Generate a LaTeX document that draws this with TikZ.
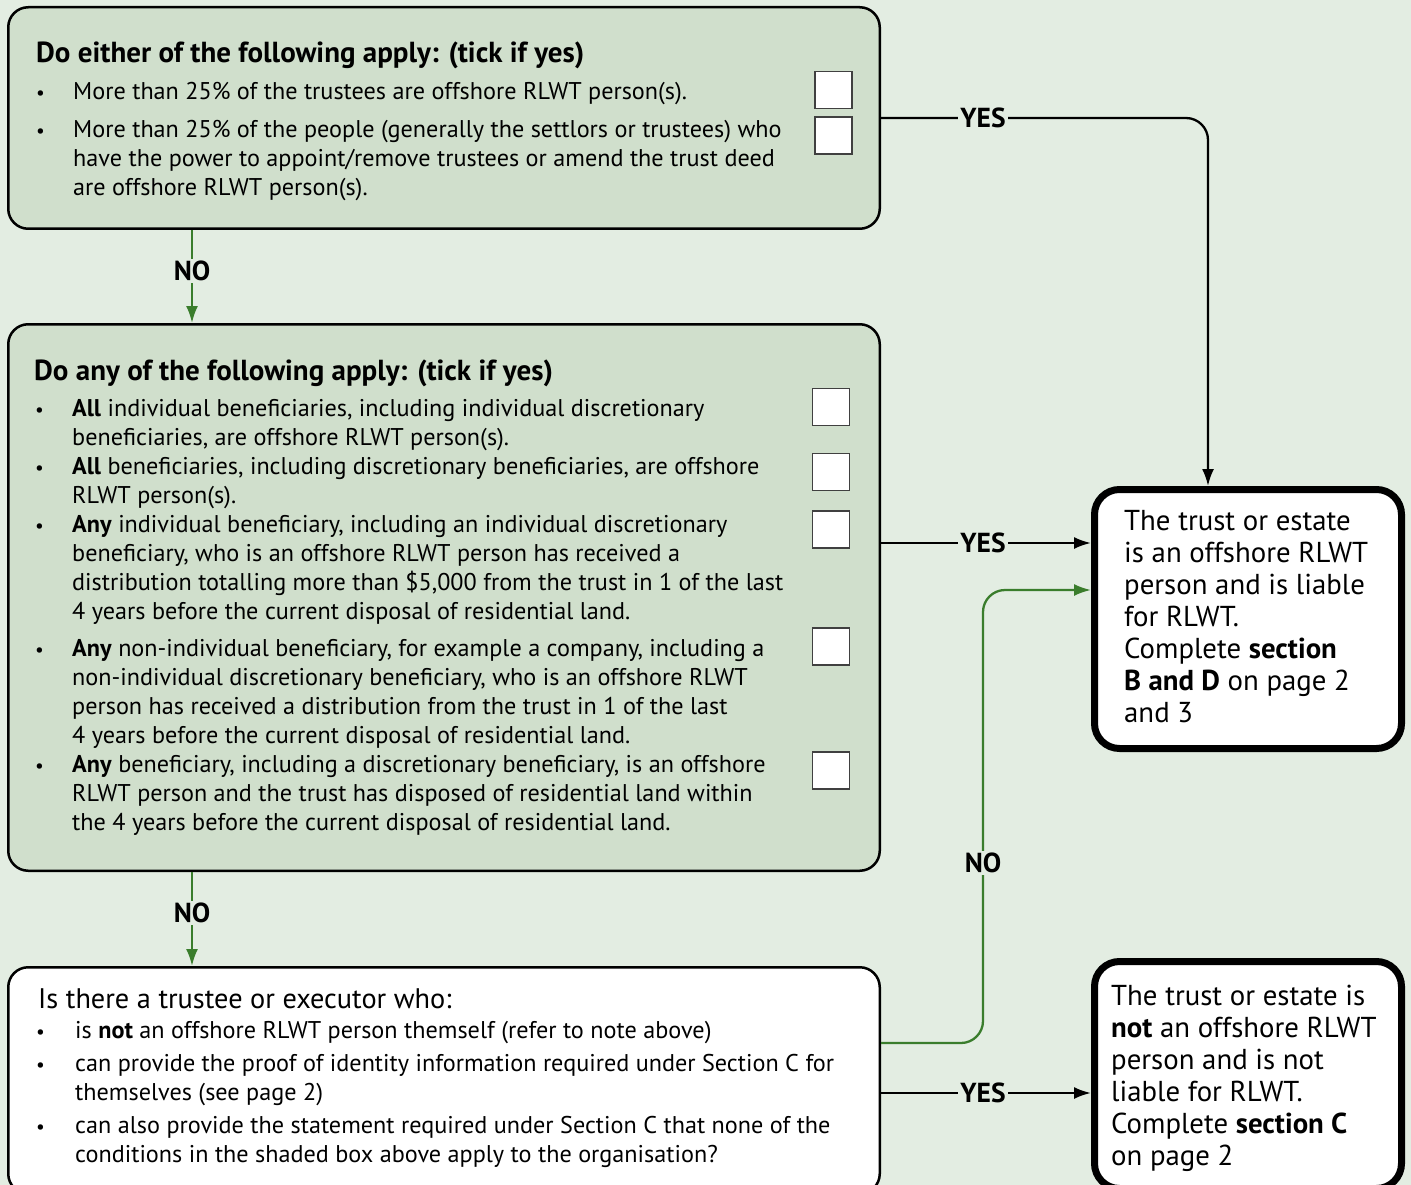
\documentclass[tikz,border=0pt]{standalone}
\usepackage{fontspec}
\setmainfont{PT Sans}
\usetikzlibrary{arrows.meta}

\definecolor{bggreen}{RGB}{227,237,226}
\definecolor{boxgreen}{RGB}{208,223,204}
\definecolor{nogreen}{RGB}{58,125,44}

% lines of a text block, baseline = first line
\newcommand{\lns}[1]{\vtop{\halign{##\hfil\cr#1\crcr}}}

\begin{document}
\begin{tikzpicture}[x=1pt, y=-1pt,
        font=\fontsize{24.2}{29}\selectfont,
        >={Latex[length=17pt,width=12pt]}, % Pfeilspitzen
        qbox/.style={draw, line width=2.5pt, rounded corners=20pt, fill=boxgreen, minimum width=871.5pt},
        rbox/.style={draw, line width=7pt, rounded corners=25pt, fill=white, minimum width=307pt},
        chk/.style={draw=black!75, line width=1.2pt, fill=white, minimum size=37pt, inner sep=0pt},
        txt/.style={anchor=base west, inner sep=0pt},
        head/.style={txt, font=\fontsize{29}{30}\selectfont\bfseries},
        res/.style={txt, font=\fontsize{28.8}{32}\selectfont},
        lbl/.style={fill=bggreen, inner sep=2pt, font=\fontsize{27.5}{30}\selectfont\bfseries},
        flow/.style={line width=2.3pt},
        noflow/.style={flow, draw=nogreen}
        ]
    \useasboundingbox (0,0) rectangle (1411,1185);
    \fill[bggreen] (0,0) rectangle (1411,1185);

    % Kaesten
    \node[qbox, minimum height=221.5pt] (q1) at (444,118) {};
    \node[qbox, minimum height=546.5pt] (q2) at (444,597.5) {};
    \node[qbox, fill=white, minimum height=226.5pt] (q3) at (444,1080.5) {};
    \node[rbox, minimum height=259pt] (resA) at (1248,619) {};
    \node[rbox, minimum height=227pt] (resB) at (1248,1075) {};

    % Ankreuzfelder
    \node[chk] (c11) at (833.5,90) {};
    \node[chk] (c12) at (833.5,135.5) {};
    \foreach \y [count=\i] in {407,472,529.5,646.5,770.5}
        \node[chk] (c2\i) at (831,\y) {};

    % Aufzaehlungspunkte
    \foreach \y [count=\i] in {100,138}
        \node[txt, scale=0.8] (b1\i) at (36,\y) {\textbullet};
    \foreach \y [count=\i] in {416,474,532,656,772}
        \node[txt, scale=0.8] (b2\i) at (35,\y) {\textbullet};
    \foreach \y [count=\i] in {1038,1071,1133}
        \node[txt, scale=0.8] (b3\i) at (36,\y) {\textbullet};

    % Texte
    \node[head] (t1) at (36,63) {Do either of the following apply: (tick if yes)};
    \node[txt] (t11) at (73,100) {More than 25\% of the trustees are offshore RLWT person(s).};
    \node[txt] (t12) at (73,138) {\lns{More than 25\% of the people (generally the settlors or trustees) who\cr
        have the power to appoint/remove trustees or amend the trust deed\cr
        are offshore RLWT person(s).}};

    \node[head] (t2) at (34,380) {Do any of the following apply: (tick if yes)};
    \node[txt] (t21) at (72,416) {\lns{\textbf{All} individual beneficiaries, including individual discretionary\cr
        beneficiaries, are offshore RLWT person(s).}};
    \node[txt] (t22) at (72,474) {\lns{\textbf{All} beneficiaries, including discretionary beneficiaries, are offshore\cr
        RLWT person(s).}};
    \node[txt] (t23) at (72,532) {\lns{\textbf{Any} individual beneficiary, including an individual discretionary\cr
        beneficiary, who is an offshore RLWT person has received a\cr
        distribution totalling more than \$5,000 from the trust in 1 of the last\cr
        4 years before the current disposal of residential land.}};
    \node[txt] (t24) at (72,656) {\lns{\textbf{Any} non-individual beneficiary, for example a company, including a\cr
        non-individual discretionary beneficiary, who is an offshore RLWT\cr
        person has received a distribution from the trust in 1 of the last\cr
        4 years before the current disposal of residential land.}};
    \node[txt] (t25) at (72,772) {\lns{\textbf{Any} beneficiary, including a discretionary beneficiary, is an offshore\cr
        RLWT person and the trust has disposed of residential land within\cr
        the 4 years before the current disposal of residential land.}};

    \node[txt, font=\fontsize{28.3}{30}\selectfont] (t3) at (38,1008) {Is there a trustee or executor who:};
    \node[txt] (t31) at (75,1038) {is \textbf{not} an offshore RLWT person themself (refer to note above)};
    \node[txt] (t32) at (75,1071) {\lns{can provide the proof of identity information required under Section C for\cr
        themselves (see page 2)}};
    \node[txt] (t33) at (75,1133) {\lns{can also provide the statement required under Section C that none of the\cr
        conditions in the shaded box above apply to the organisation?}};

    \node[res] (tA) at (1124,530) {\lns{The trust or estate\cr is an offshore RLWT\cr
        person and is liable\cr for RLWT.\cr Complete \textbf{section}\cr
        \textbf{B and D} on page 2\cr and 3}};
    \node[res] (tB) at (1111,1005) {\lns{The trust or estate is\cr \textbf{not} an offshore RLWT\cr
        person and is not\cr liable for RLWT.\cr Complete \textbf{section C}\cr on page 2}};

    % Hilfspunkte
    \coordinate (y1) at (1208,118);
    \coordinate (y2) at (881,543);
    \coordinate (y3) at (881,1093);
    \coordinate (n0) at (881,1043);
    \coordinate (n1) at (983,590);

    % Verbindungen
    \draw[flow,->,rounded corners=22pt] (q1.east) -| (resA.north -| y1);
    \draw[flow,->] (q2.east |- y2) -- (resA.west |- y2);
    \draw[flow,->] (q3.east |- y3) -- (resB.west |- y3);
    \draw[noflow,->,rounded corners=22pt] (q3.east |- n0) -| (n1) -- (resA.west |- n1);
    \draw[noflow,->] ([xshift=-252pt]q1.south) -- ([xshift=-252pt]q2.north);
    \draw[noflow,->] ([xshift=-252pt]q2.south) -- ([xshift=-252pt]q3.north);

    % Beschriftungen
    \node[lbl] (yes1) at (983,118) {YES};
    \node[lbl] (yes2) at (983,543) {YES};
    \node[lbl] (yes3) at (983,1093) {YES};
    \node[lbl] (no1) at (192,271) {NO};
    \node[lbl] (no2) at (192,913) {NO};
    \node[lbl] (no3) at (983,863) {NO};
\end{tikzpicture}
\end{document}
